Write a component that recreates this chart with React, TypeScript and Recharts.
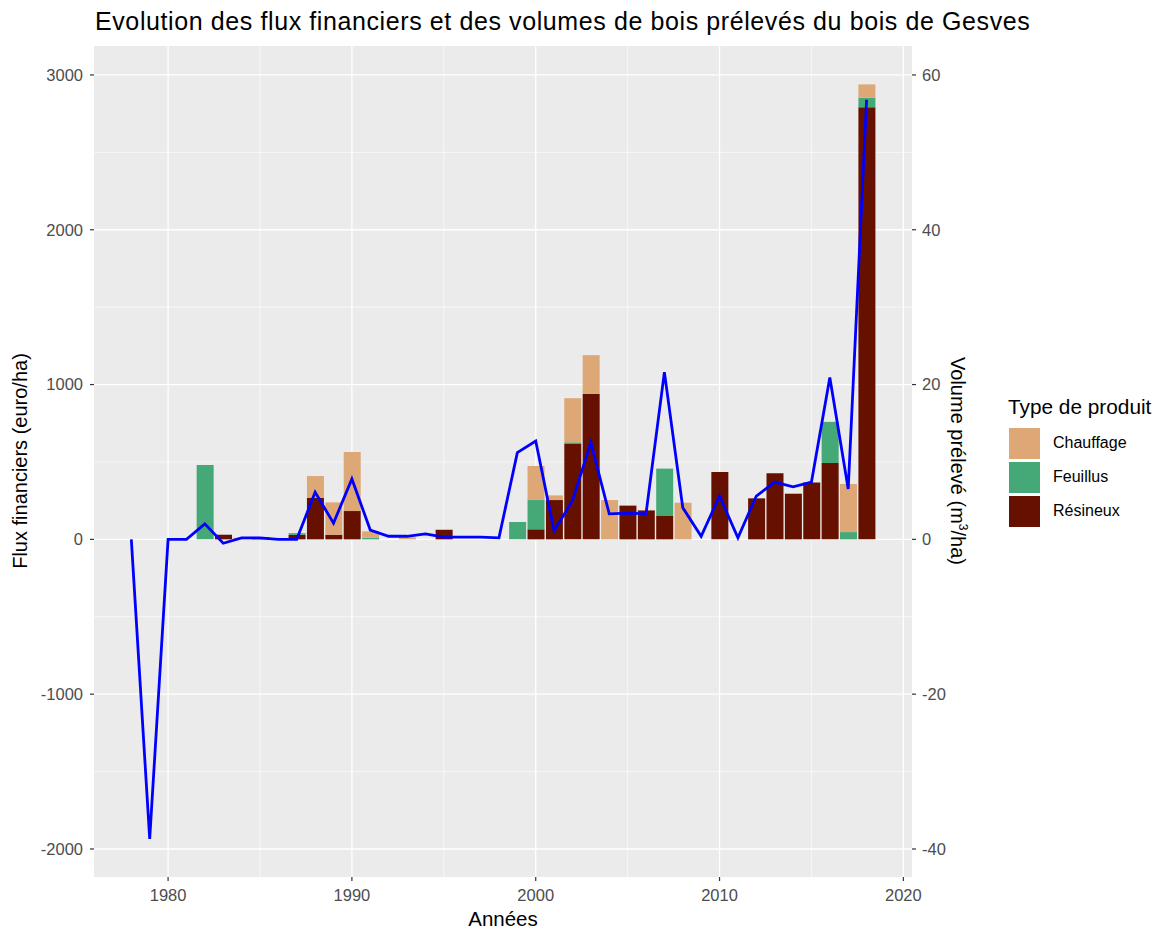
import React from "react";
import { ComposedChart, Bar, Line, XAxis, YAxis, CartesianGrid } from "recharts";

const years = [
  1978, 1979, 1980, 1981, 1982, 1983, 1984, 1985, 1986, 1987, 1988, 1989, 1990, 1991,
  1992, 1993, 1994, 1995, 1996, 1997, 1998, 1999, 2000, 2001, 2002, 2003, 2004, 2005,
  2006, 2007, 2008, 2009, 2010, 2011, 2012, 2013, 2014, 2015, 2016, 2017, 2018,
];

// euro/ha, stacked parts
const resineux = [
  0, 0, 0, 0, 0, 30, 0, 15, 0, 30, 269, 30, 183, 0,
  0, 0, 0, 62, 0, 0, 0, 0, 65, 254, 616, 940, 0, 218,
  187, 151, 0, 0, 435, 0, 265, 427, 295, 368, 493, 0, 2791,
];
const feuillus = [
  0, 0, 0, 0, 480, 0, 0, 0, 0, 10, 0, 0, 0, 10,
  0, 0, 0, 0, 0, 0, 0, 112, 189, 0, 11, 0, 0, 0,
  0, 306, 0, 0, 0, 0, 0, 0, 0, 0, 266, 47, 62,
];
const chauffage = [
  0, 0, 0, 0, 0, 0, 10, 0, 0, 0, 140, 209, 382, 42,
  0, 13, 0, 0, 0, 0, 0, 0, 220, 30, 285, 250, 254, 0,
  0, 0, 237, 0, 0, 0, 0, 0, 0, 0, 0, 311, 86,
];
// m3/ha
const volume = [
  0, -38.7, 0, 0, 2.0, -0.5, 0.2, 0.2, 0, 0, 6.1, 2.1, 7.8, 1.2,
  0.4, 0.4, 0.7, 0.3, 0.3, 0.3, 0.2, 11.2, 12.7, 1.1, 5.0, 12.5, 3.3, 3.4,
  3.3, 21.6, 4.1, 0.4, 5.6, 0.2, 5.6, 7.4, 6.8, 7.4, 20.9, 6.5, 56.8,
];

const xTicks = [1980, 1990, 2000, 2010, 2020];
const xMinor = [1985, 1995, 2005, 2015];
const leftTicks = [-2000, -1000, 0, 1000, 2000, 3000];
const leftMinor = [-1500, -500, 500, 1500, 2500];
const rightTicks = [-40, -20, 0, 20, 40, 60];

const legendItems = [
  { name: "Chauffage", color: "#DEA876" },
  { name: "Feuillus", color: "#44A877" },
  { name: "Résineux", color: "#661100" },
];

const data = years.map((annee, i) => ({
  annee,
  Résineux: resineux[i],
  Feuillus: feuillus[i],
  Chauffage: chauffage[i],
  volume: volume[i],
}));

const font = "'Liberation Sans', Arial, sans-serif";
const tickStyle = { fill: "#4D4D4D", fontSize: 16.5, fontFamily: font };

export default function App() {
  return (
    <div style={{ position: "absolute", left: 0, top: 0, width: 1164, height: 935, background: "#fff", fontFamily: font }}>
      <div style={{ position: "absolute", left: 95, top: 7, fontSize: 25, letterSpacing: 0.6, color: "#000", whiteSpace: "nowrap" }}>
        Evolution des flux financiers et des volumes de bois prélevés du bois de Gesves
      </div>
      <ComposedChart
        width={1164}
        height={935}
        data={data}
        margin={{ top: 46, left: 34, right: 202, bottom: 8 }}
      >
        <CartesianGrid
          yAxisId="left"
          horizontalValues={leftMinor}
          verticalValues={xMinor}
          stroke="#fff"
          strokeWidth={0.6}
          fill="#EBEBEB"
          fillOpacity={1}
        />
        <CartesianGrid
          yAxisId="left"
          horizontalValues={leftTicks}
          verticalValues={xTicks}
          stroke="#fff"
          strokeWidth={1.3}
        />
        <XAxis
          dataKey="annee"
          type="number"
          domain={[1975.97, 2020.47]}
          ticks={xTicks}
          allowDataOverflow
          axisLine={false}
          tickSize={4}
          tickLine={{ stroke: "#333", strokeWidth: 1.2 }}
          tick={{ ...tickStyle, dy: 6 }}
          height={50}
        />
        <YAxis
          yAxisId="left"
          domain={[-2181, 3187]}
          ticks={leftTicks}
          allowDataOverflow
          axisLine={false}
          tickSize={4}
          tickLine={{ stroke: "#333", strokeWidth: 1.2 }}
          tick={{ ...tickStyle, dx: -5 }}
          width={60}
        />
        <YAxis
          yAxisId="right"
          orientation="right"
          domain={[-43.62, 63.74]}
          ticks={rightTicks}
          allowDataOverflow
          axisLine={false}
          tickSize={4}
          tickLine={{ stroke: "#333", strokeWidth: 1.2 }}
          tick={{ ...tickStyle, dx: 4 }}
          width={50}
        />
        <Bar yAxisId="left" dataKey="Résineux" stackId="a" fill="#661100" barSize={17} isAnimationActive={false} />
        <Bar yAxisId="left" dataKey="Feuillus" stackId="a" fill="#44A877" barSize={17} isAnimationActive={false} />
        <Bar yAxisId="left" dataKey="Chauffage" stackId="a" fill="#DEA876" barSize={17} isAnimationActive={false} />
        <Line
          yAxisId="right"
          dataKey="volume"
          stroke="#0000FF"
          strokeWidth={2.8}
          dot={false}
          type="linear"
          isAnimationActive={false}
        />
      </ComposedChart>

      <div style={{ position: "absolute", left: 503, top: 907, transform: "translateX(-50%)", fontSize: 20.5, color: "#000" }}>
        Années
      </div>
      <div
        style={{
          position: "absolute",
          left: 20,
          top: 461,
          transform: "translate(-50%, -50%) rotate(-90deg)",
          fontSize: 20,
          color: "#000",
          whiteSpace: "nowrap",
        }}
      >
        Flux financiers (euro/ha)
      </div>
      <div
        style={{
          position: "absolute",
          left: 958,
          top: 461,
          transform: "translate(-50%, -50%) rotate(90deg)",
          fontSize: 20,
          color: "#000",
          whiteSpace: "nowrap",
        }}
      >
        Volume prélevé (m<sup style={{ fontSize: 12 }}>3</sup>/ha)
      </div>

      <div style={{ position: "absolute", left: 1008, top: 395 }}>
        <div style={{ fontSize: 20.8, color: "#000", marginBottom: 7 }}>Type de produit</div>
        {legendItems.map((it) => (
          <div key={it.name} style={{ display: "flex", alignItems: "center", height: 34 }}>
            <div style={{ width: 31, height: 31, background: it.color, border: "1px solid #fff" }} />
            <span style={{ marginLeft: 12, fontSize: 16, color: "#000" }}>{it.name}</span>
          </div>
        ))}
      </div>
    </div>
  );
}
